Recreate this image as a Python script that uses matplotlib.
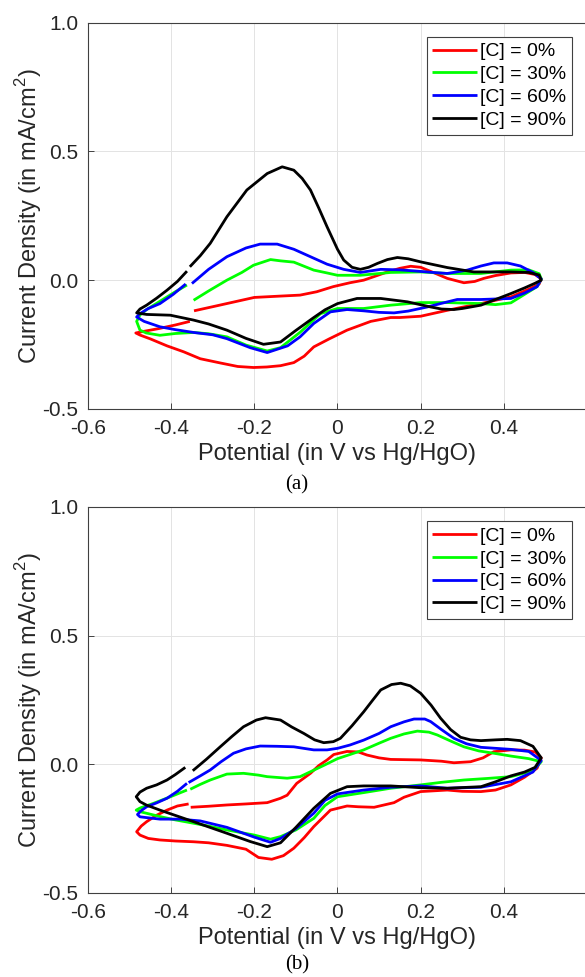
import matplotlib
matplotlib.use("Agg")
import matplotlib.pyplot as plt

plt.rcParams['font.family'] = 'Liberation Sans'
plt.rcParams['mathtext.fontset'] = 'custom'
plt.rcParams['mathtext.rm'] = 'Liberation Sans'
plt.rcParams['axes.unicode_minus'] = False

labels = ["[C] = 0%", "[C] = 30%", "[C] = 60%", "[C] = 90%"]
colors = ["#ff0000", "#00ff00", "#0000ff", "#000000"]

xticks = [-0.6, -0.4, -0.2, 0, 0.2, 0.4]
xticklabels = ["-0.6", "-0.4", "-0.2", "0", "0.2", "0.4"]
yticks = [-0.5, 0.0, 0.5, 1.0]
yticklabels = ["-0.5", "0.0", "0.5", "1.0"]

# ---- panel (a) ----
a_red_x = [-0.345, -0.30, -0.25, -0.20, -0.14, -0.09, -0.05, -0.01, 0.03, 0.063, 0.09, 0.12, 0.15, 0.176, 0.20, 0.23,
           0.264, 0.304, 0.33, 0.352, 0.38, 0.417, 0.45, 0.475, 0.49, 0.485, 0.46, 0.417, 0.38, 0.345, 0.30, 0.264,
           0.20, 0.15, 0.128, 0.08, 0.023, -0.02, -0.057, -0.08, -0.105, -0.137, -0.17, -0.202, -0.24, -0.28, -0.33,
           -0.37, -0.41, -0.45, -0.475, -0.485, -0.47, -0.43, -0.39, -0.355]
a_red_y = [-0.119, -0.103, -0.085, -0.067, -0.062, -0.058, -0.045, -0.025, -0.010, 0.000, 0.015, 0.032, 0.046, 0.054,
           0.050, 0.030, 0.007, -0.010, -0.005, 0.007, 0.018, 0.028, 0.030, 0.022, 0.005, -0.015, -0.035, -0.065,
           -0.078, -0.091, -0.105, -0.117, -0.140, -0.145, -0.145, -0.160, -0.194, -0.228, -0.259, -0.295, -0.320,
           -0.332, -0.337, -0.339, -0.335, -0.322, -0.305, -0.278, -0.255, -0.228, -0.213, -0.205, -0.200, -0.188,
           -0.174, -0.160]

a_green_x = [-0.346, -0.31, -0.266, -0.23, -0.202, -0.161, -0.137, -0.105, -0.057, -0.025, 0.0, 0.055, 0.128, 0.2,
             0.264, 0.345, 0.417, 0.46, 0.485, 0.49, 0.48, 0.45, 0.417, 0.38, 0.345, 0.264, 0.2, 0.128, 0.063, 0.0,
             -0.041, -0.089, -0.137, -0.169, -0.22, -0.266, -0.31, -0.346, -0.39, -0.427, -0.46, -0.475, -0.483,
             -0.475, -0.459, -0.42, -0.39, -0.362]
a_green_y = [-0.078, -0.042, 0.000, 0.030, 0.058, 0.080, 0.075, 0.070, 0.039, 0.028, 0.019, 0.019, 0.030, 0.032,
             0.026, 0.026, 0.039, 0.040, 0.025, 0.005, -0.025, -0.055, -0.088, -0.095, -0.091, -0.087, -0.087,
             -0.097, -0.110, -0.110, -0.130, -0.201, -0.262, -0.275, -0.252, -0.220, -0.208, -0.203, -0.207, -0.214,
             -0.205, -0.194, -0.160, -0.135, -0.114, -0.075, -0.045, -0.019]

a_blue_x = [-0.350, -0.31, -0.266, -0.22, -0.186, -0.145, -0.105, -0.065, -0.025, 0.015, 0.055, 0.104, 0.15, 0.184,
            0.23, 0.264, 0.312, 0.345, 0.376, 0.408, 0.44, 0.47, 0.49, 0.48, 0.45, 0.417, 0.345, 0.288, 0.25, 0.216,
            0.17, 0.136, 0.1, 0.063, 0.023, -0.017, -0.057, -0.09, -0.12, -0.169, -0.21, -0.266, -0.30, -0.346,
            -0.39, -0.427, -0.465, -0.483, -0.475, -0.455, -0.427, -0.395, -0.365]
a_blue_y = [-0.013, 0.042, 0.091, 0.125, 0.140, 0.140, 0.120, 0.091, 0.062, 0.042, 0.030, 0.042, 0.040, 0.036, 0.030,
            0.026, 0.039, 0.055, 0.067, 0.067, 0.055, 0.030, 0.005, -0.025, -0.050, -0.071, -0.075, -0.075, -0.090,
            -0.104, -0.120, -0.127, -0.125, -0.119, -0.114, -0.123, -0.168, -0.220, -0.255, -0.281, -0.262, -0.227,
            -0.212, -0.203, -0.192, -0.181, -0.160, -0.143, -0.130, -0.110, -0.091, -0.055, -0.015]

a_black_x = [-0.355, -0.33, -0.306, -0.266, -0.218, -0.169, -0.133, -0.105, -0.085, -0.065, -0.045, -0.025, 0.0,
             0.015, 0.035, 0.055, 0.075, 0.096, 0.12, 0.144, 0.17, 0.2, 0.264, 0.328, 0.417, 0.46, 0.485, 0.49, 0.475,
             0.45, 0.417, 0.38, 0.345, 0.30, 0.28, 0.25, 0.224, 0.168, 0.104, 0.047, 0.0, -0.03, -0.057, -0.10,
             -0.137, -0.178, -0.22, -0.266, -0.31, -0.346, -0.402, -0.459, -0.483, -0.475, -0.459, -0.435, -0.410,
             -0.385, -0.362]
a_black_y = [0.052, 0.095, 0.143, 0.246, 0.350, 0.414, 0.440, 0.427, 0.395, 0.350, 0.280, 0.207, 0.120, 0.078, 0.050,
             0.042, 0.050, 0.065, 0.080, 0.088, 0.083, 0.071, 0.049, 0.032, 0.032, 0.030, 0.020, 0.000, -0.012,
             -0.030, -0.052, -0.075, -0.097, -0.110, -0.114, -0.112, -0.104, -0.084, -0.071, -0.071, -0.091, -0.115,
             -0.145, -0.195, -0.240, -0.249, -0.226, -0.194, -0.170, -0.155, -0.136, -0.133, -0.127, -0.112, -0.097,
             -0.070, -0.039, -0.005, 0.035]

# ---- panel (b) ----
b_red_x = [-0.353, -0.31, -0.266, -0.22, -0.169, -0.137, -0.121, -0.098, -0.065, -0.045, -0.025, -0.009, 0.023, 0.05,
           0.071, 0.1, 0.128, 0.2, 0.25, 0.280, 0.320, 0.35, 0.376, 0.417, 0.45, 0.475, 0.49, 0.48, 0.45, 0.417,
           0.38, 0.345, 0.30, 0.264, 0.2, 0.16, 0.136, 0.088, 0.05, 0.023, -0.017, -0.057, -0.08, -0.105, -0.130,
           -0.158, -0.19, -0.22, -0.266, -0.31, -0.346, -0.39, -0.427, -0.455, -0.475, -0.483, -0.472, -0.459,
           -0.435, -0.41, -0.385, -0.358]
b_red_y = [-0.167, -0.163, -0.158, -0.154, -0.149, -0.132, -0.120, -0.074, -0.035, -0.005, 0.017, 0.038, 0.050,
           0.048, 0.036, 0.025, 0.019, 0.017, 0.012, 0.006, 0.010, 0.025, 0.049, 0.056, 0.055, 0.048, 0.025,
           -0.015, -0.050, -0.080, -0.100, -0.106, -0.105, -0.100, -0.106, -0.128, -0.149, -0.167, -0.165, -0.162,
           -0.178, -0.242, -0.285, -0.326, -0.355, -0.369, -0.362, -0.330, -0.315, -0.305, -0.301, -0.298, -0.294,
           -0.288, -0.275, -0.262, -0.240, -0.223, -0.198, -0.178, -0.162, -0.154]

b_green_x = [-0.354, -0.33, -0.306, -0.266, -0.226, -0.19, -0.169, -0.121, -0.09, -0.06, -0.03, 0.0, 0.03, 0.063,
             0.1, 0.128, 0.16, 0.192, 0.22, 0.240, 0.27, 0.304, 0.34, 0.376, 0.417, 0.46, 0.49, 0.47, 0.417, 0.36,
             0.304, 0.25, 0.2, 0.128, 0.063, 0.0, -0.03, -0.057, -0.1, -0.137, -0.161, -0.2, -0.266, -0.31, -0.346,
             -0.39, -0.427, -0.46, -0.475, -0.484, -0.475, -0.443, -0.40, -0.362]
b_green_y = [-0.097, -0.078, -0.061, -0.038, -0.035, -0.042, -0.048, -0.054, -0.048, -0.025, -0.002, 0.022, 0.038,
             0.056, 0.082, 0.101, 0.118, 0.129, 0.125, 0.114, 0.092, 0.068, 0.052, 0.043, 0.032, 0.022, 0.010,
             -0.025, -0.048, -0.055, -0.061, -0.070, -0.080, -0.093, -0.110, -0.126, -0.160, -0.210, -0.255, -0.281,
             -0.291, -0.275, -0.255, -0.240, -0.229, -0.216, -0.203, -0.190, -0.184, -0.178, -0.170, -0.152, -0.125,
             -0.100]

b_blue_x = [-0.358, -0.33, -0.306, -0.28, -0.250, -0.22, -0.186, -0.145, -0.105, -0.057, -0.025, 0.0, 0.03, 0.063,
            0.1, 0.128, 0.16, 0.184, 0.21, 0.224, 0.25, 0.280, 0.31, 0.345, 0.417, 0.46, 0.49, 0.47, 0.417, 0.345,
            0.264, 0.2, 0.128, 0.063, 0.0, -0.03, -0.057, -0.1, -0.137, -0.161, -0.2, -0.266, -0.330, -0.38, -0.427,
            -0.46, -0.475, -0.481, -0.472, -0.459, -0.435, -0.410, -0.385, -0.362]
b_blue_y = [-0.071, -0.045, -0.022, 0.010, 0.043, 0.060, 0.071, 0.070, 0.068, 0.056, 0.056, 0.062, 0.075, 0.094,
            0.120, 0.146, 0.165, 0.176, 0.176, 0.166, 0.135, 0.101, 0.080, 0.066, 0.058, 0.050, 0.015, -0.030,
            -0.068, -0.089, -0.093, -0.084, -0.089, -0.100, -0.115, -0.140, -0.190, -0.250, -0.288, -0.303, -0.283,
            -0.245, -0.220, -0.213, -0.213, -0.207, -0.204, -0.195, -0.180, -0.165, -0.150, -0.132, -0.105, -0.074]

b_black_x = [-0.348, -0.315, -0.282, -0.254, -0.226, -0.195, -0.173, -0.137, -0.11, -0.081, -0.055, -0.033, -0.01,
             0.007, 0.035, 0.063, 0.085, 0.104, 0.13, 0.152, 0.175, 0.2, 0.225, 0.248, 0.272, 0.296, 0.32, 0.345,
             0.38, 0.408, 0.44, 0.47, 0.49, 0.475, 0.45, 0.417, 0.38, 0.345, 0.264, 0.2, 0.128, 0.063, 0.023,
             -0.017, -0.057, -0.1, -0.137, -0.169, -0.21, -0.266, -0.346, -0.427, -0.46, -0.475, -0.484, -0.475,
             -0.459, -0.435, -0.410, -0.39, -0.366]
b_black_y = [-0.025, 0.020, 0.068, 0.108, 0.146, 0.172, 0.181, 0.172, 0.145, 0.120, 0.095, 0.084, 0.088, 0.101,
             0.150, 0.204, 0.250, 0.289, 0.310, 0.315, 0.305, 0.276, 0.230, 0.179, 0.135, 0.105, 0.095, 0.092, 0.095,
             0.097, 0.092, 0.070, 0.025, -0.012, -0.030, -0.045, -0.068, -0.087, -0.093, -0.091, -0.084, -0.084,
             -0.087, -0.113, -0.171, -0.245, -0.305, -0.320, -0.300, -0.268, -0.223, -0.178, -0.158, -0.145, -0.126,
             -0.108, -0.093, -0.080, -0.061, -0.040, -0.012]

panels = [
    ("(a)", [(a_red_x, a_red_y), (a_green_x, a_green_y), (a_blue_x, a_blue_y), (a_black_x, a_black_y)]),
    ("(b)", [(b_red_x, b_red_y), (b_green_x, b_green_y), (b_blue_x, b_blue_y), (b_black_x, b_black_y)]),
]

fig = plt.figure(figsize=(5.85, 9.77), dpi=100)
rects = [[0.1504, 0.5814, 0.8530, 0.3955], [0.1504, 0.0860, 0.8530, 0.3951]]
caption_y = [0.5036, 0.0123]

for (tag, curves), rect, cy in zip(panels, rects, caption_y):
    ax = fig.add_axes(rect)
    for (xs, ys), c, lab in zip(curves, colors, labels):
        ax.plot(xs, ys, color=c, lw=2.0, label=lab, solid_joinstyle='round', solid_capstyle='butt')
    ax.set_xlim(-0.6, 0.6)
    ax.set_ylim(-0.5, 1.0)
    ax.set_xticks(xticks)
    ax.set_xticklabels(xticklabels)
    ax.set_yticks(yticks)
    ax.set_yticklabels(yticklabels)
    ax.tick_params(direction='in', length=4, width=0.7, colors='#404040', labelsize=15, labelcolor='#262626', pad=7)
    ax.grid(True, color='#e3e3e3', lw=0.7)
    ax.set_axisbelow(True)
    for s in ax.spines.values():
        s.set_color('#404040')
        s.set_linewidth(0.8)
    ax.set_xlabel("Potential (in V vs Hg/HgO)", fontsize=17, color='#262626', labelpad=4)
    ax.set_ylabel("Current Density (in mA/cm$^{2}$)", fontsize=17, color='#262626', labelpad=-1)
    leg = ax.legend(loc='upper right', bbox_to_anchor=(0.970, 0.963), borderaxespad=0, fontsize=14,
                    handlelength=2.3, handletextpad=0.15, labelspacing=0.27, borderpad=0.3,
                    fancybox=False, framealpha=1, edgecolor='#404040')
    leg.get_frame().set_linewidth(0.8)
    fig.text(0.508, cy, tag, ha='center', va='center', fontsize=15, family='Liberation Serif')

plt.savefig("out.png", dpi=100)
